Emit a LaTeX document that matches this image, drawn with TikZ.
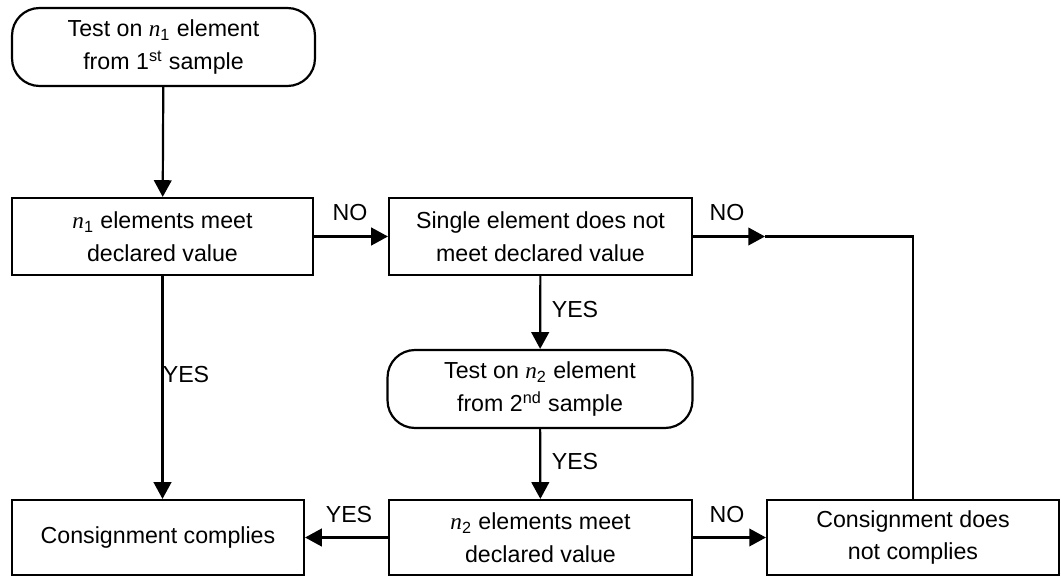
\documentclass[tikz,border=0pt]{standalone}
\usepackage{fontspec}
\setmainfont{Liberation Sans}
\newfontfamily\serifface{Liberation Serif}
\usetikzlibrary{arrows.meta}
\newcommand{\nvar}[1]{{\serifface\itshape n}\textsubscript{#1}}
\tikzset{
  box/.style={draw, line width=1.25pt, align=center, inner sep=0pt,
    font=\fontsize{13.2}{18.7}\selectfont},
  roundbox/.style={box, rounded corners=0.55cm},
  flow/.style={line width=1.25pt, -{Triangle[length=9.5pt,width=10pt]}},
  lbl/.style={font=\fontsize{13.2}{15}\selectfont}
}
\begin{document}
\begin{tikzpicture}[x=0.02cm, y=-0.02cm]
\useasboundingbox (0,0) rectangle (1061,577);
% boxes
\node[roundbox, minimum width=6.06cm, minimum height=1.56cm] (start) at (163.5,47) {Test on \nvar{1} element\\from 1\textsuperscript{st} sample};
\node[box, minimum width=6.02cm, minimum height=1.54cm] (n1) at (162.5,236.5) {\nvar{1} elements meet\\declared value};
\node[box, minimum width=6.06cm, minimum height=1.54cm] (single) at (540.5,236.5) {Single element does not\\meet declared value};
\node[roundbox, minimum width=6.1cm, minimum height=1.56cm] (test2) at (540,389) {Test on \nvar{2} element\\from 2\textsuperscript{nd} sample};
\node[box, minimum width=6.06cm, minimum height=1.5cm] (n2) at (540.5,537.5) {\nvar{2} elements meet\\declared value};
\node[box, minimum width=5.84cm, minimum height=1.5cm] (comply) at (158,537.5) {Consignment complies};
\node[box, minimum width=5.84cm, minimum height=1.5cm] (notcomply) at (913,537.5) {Consignment does\\not complies};
\coordinate (turn) at (765,236.5);
% connectors
\draw[flow] (start) -- (n1);
\draw[flow] (n1) -- (n1 |- comply.north);
\draw[flow] (n1) -- (single);
\draw[flow] (single) -- (test2);
\draw[flow] (test2) -- (n2);
\draw[flow] (n2) -- (comply);
\draw[flow] (n2) -- (notcomply);
\draw[flow] (single) -- (turn);
\draw[line width=1.25pt] (turn) -| (notcomply.north);
% labels
\node[lbl] (no1) at (350,213) {NO};
\node[lbl] (no2) at (727,213) {NO};
\node[lbl] (yes1) at (186,375) {YES};
\node[lbl] (yes2) at (575,310) {YES};
\node[lbl] (yes3) at (575,462) {YES};
\node[lbl] (yes4) at (349,515) {YES};
\node[lbl] (no3) at (727,515) {NO};
\end{tikzpicture}
\end{document}
